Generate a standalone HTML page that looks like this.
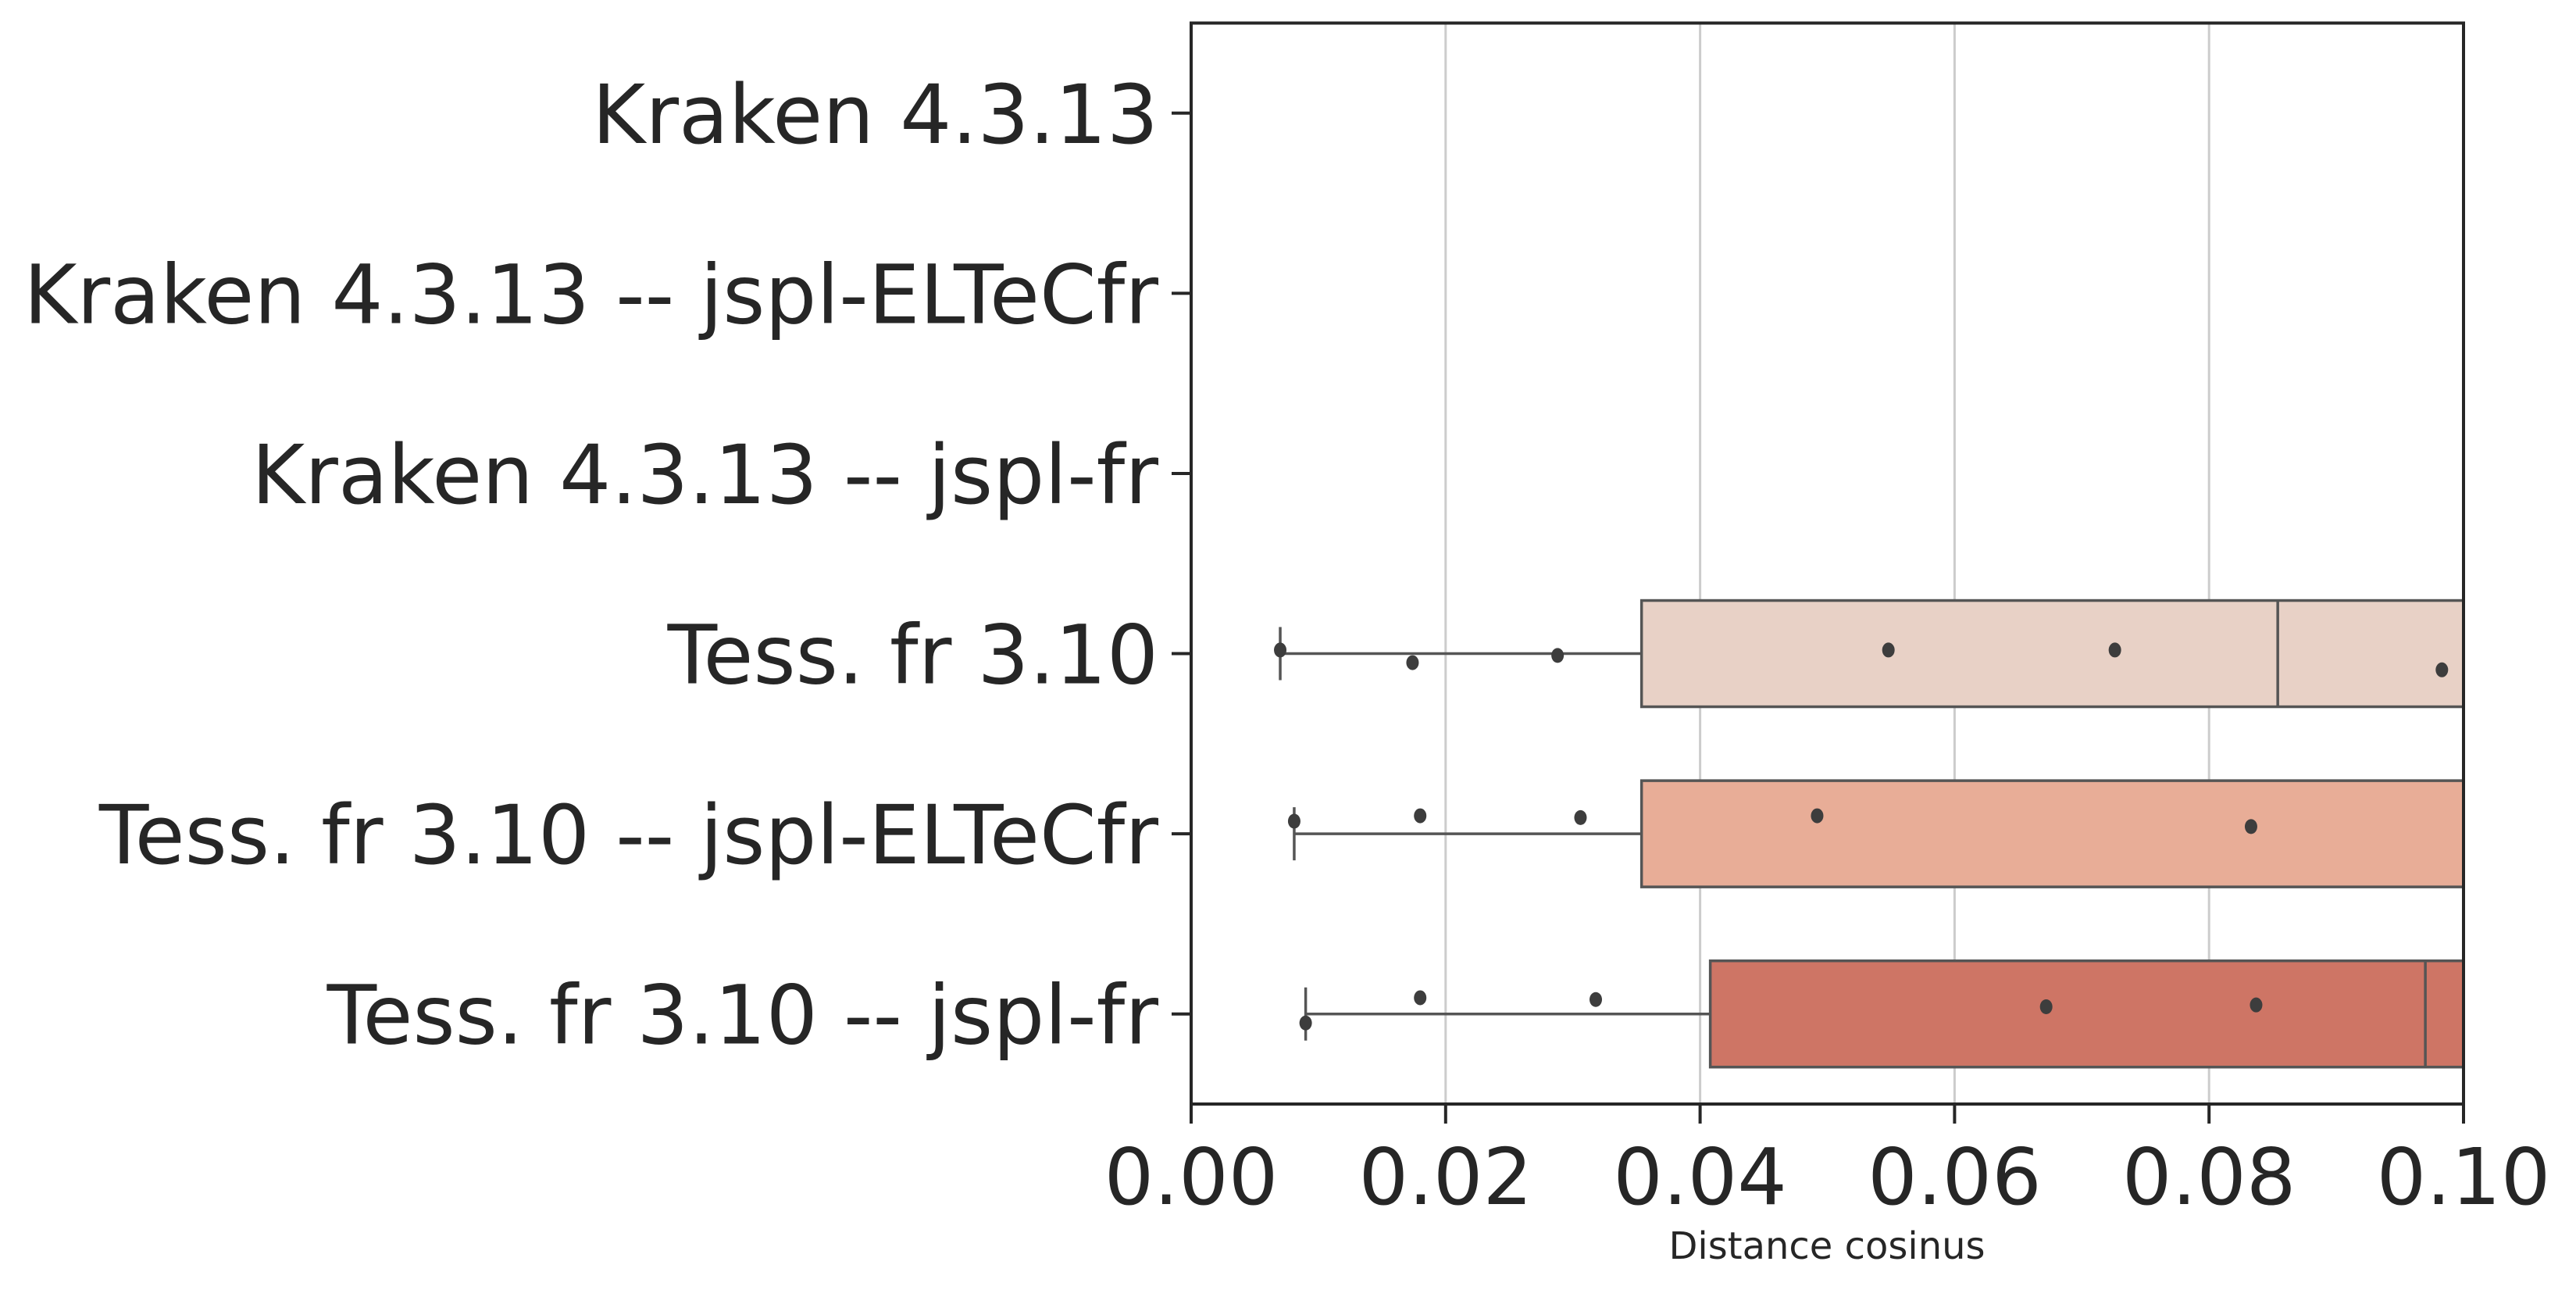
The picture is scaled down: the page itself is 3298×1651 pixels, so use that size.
<!DOCTYPE html>
<html><head><meta charset="utf-8"><style>
html,body{margin:0;padding:0;background:#fff;}
svg{display:block;font-family:"DejaVu Sans","Liberation Sans",sans-serif;}
</style></head><body>
<svg id="chart" width="3298" height="1651" viewBox="0 0 3298 1651" xmlns="http://www.w3.org/2000/svg">
<defs><clipPath id="plotclip"><rect x="1525" y="29.5" width="1629" height="1383.5"/></clipPath></defs>
<g id="grid"></g>
<g id="boxes" clip-path="url(#plotclip)"></g>
<g id="axes"></g>
</svg>
<script>
const categories = ["Kraken 4.3.13","Kraken 4.3.13 -- jspl-ELTeCfr","Kraken 4.3.13 -- jspl-fr","Tess. fr 3.10","Tess. fr 3.10 -- jspl-ELTeCfr","Tess. fr 3.10 -- jspl-fr"];
const whiskerLow = [null,null,null,0.0070,0.0081,0.0090];
const q1 = [null,null,null,0.0354,0.0354,0.0408];
const medians = [null,null,null,0.0854,0.105,0.0970];
const q3 = [null,null,null,0.12,0.12,0.12];
const pointsX = [[],[],[],[0.0070,0.0174,0.0288,0.0548,0.0726,0.0983],[0.0081,0.0180,0.0306,0.0492,0.0833],[0.0090,0.0180,0.0318,0.0672,0.0837]];
const pointsJitter = [[],[],[],[-0.02,0.05,0.01,-0.02,-0.02,0.09],[-0.07,-0.1,-0.09,-0.1,-0.04],[0.05,-0.09,-0.08,-0.04,-0.05]];
const xTicks = [0,0.02,0.04,0.06,0.08,0.10];
const xTickLabels = ["0.00","0.02","0.04","0.06","0.08","0.10"];
const fills = [null,null,null,"#e8d1c6","#e8ad97","#ce7565"];

const L=1525,R=3154,T=29.5,B=1413;
const xScale=v=>L+(v-0)/(0.1)*(R-L);
const band=(B-T)/categories.length;
const yScale=i=>T+band*(i+0.5);
const NS="http://www.w3.org/2000/svg";
function mk(tag,attrs,parent){const e=document.createElementNS(NS,tag);for(const k in attrs)e.setAttribute(k,attrs[k]);parent.appendChild(e);return e;}
const grid=document.getElementById('grid'),boxes=document.getElementById('boxes'),axes=document.getElementById('axes');

xTicks.forEach((t,i)=>{
  const x=xScale(t);
  if(i>0&&i<xTicks.length-1){
    const g=mk('line',{x1:x,x2:x,y1:T,y2:B,stroke:'#cccccc','stroke-width':3},grid);
    
    
  }
  const tk=mk('line',{x1:x,x2:x,y1:B,y2:B+25,stroke:'#262626','stroke-width':4},axes);
  
  
  const tl=mk('text',{x:x,y:1541,'text-anchor':'middle','font-size':100,fill:'#262626'},axes);
  tl.textContent=xTickLabels[i];
  
  
});

const hh=68;
categories.forEach((c,i)=>{
  const y=yScale(i);
  const tk=mk('line',{x1:L-25,x2:L,y1:y,y2:y,stroke:'#262626','stroke-width':4},axes);
  
  
  const tl=mk('text',{x:L-42,y:y+38,'text-anchor':'end','font-size':104,fill:'#262626'},axes);
  tl.textContent=c;
  
  
  if(q1[i]===null)return;
  const wl=mk('line',{x1:xScale(whiskerLow[i]),x2:xScale(q1[i]),y1:y,y2:y,stroke:'#555','stroke-width':3.5},boxes);
  
  
  const cap=mk('line',{x1:xScale(whiskerLow[i]),x2:xScale(whiskerLow[i]),y1:y-34,y2:y+34,stroke:'#555','stroke-width':3.5},boxes);
  
  
  const bx=mk('rect',{x:xScale(q1[i]),y:y-hh,width:xScale(q3[i])-xScale(q1[i]),height:2*hh,fill:fills[i],stroke:'#555','stroke-width':3.5},boxes);
  
  
  const md=mk('line',{x1:xScale(medians[i]),x2:xScale(medians[i]),y1:y-hh,y2:y+hh,stroke:'#555','stroke-width':3.5},boxes);
  
  
  pointsX[i].forEach((v,j)=>{
    const p=mk('ellipse',{cx:xScale(v),cy:y+pointsJitter[i][j]*band,rx:8,ry:9.5,fill:'#3d3d3d'},boxes);
    
    
  });
});

const frame=mk('rect',{x:L,y:T,width:R-L,height:B-T,fill:'none',stroke:'#262626','stroke-width':4},axes);


const xl=mk('text',{x:2339,y:1611,'text-anchor':'middle','font-size':48,fill:'#262626'},axes);
xl.textContent='Distance cosinus';


</script>
</body></html>
